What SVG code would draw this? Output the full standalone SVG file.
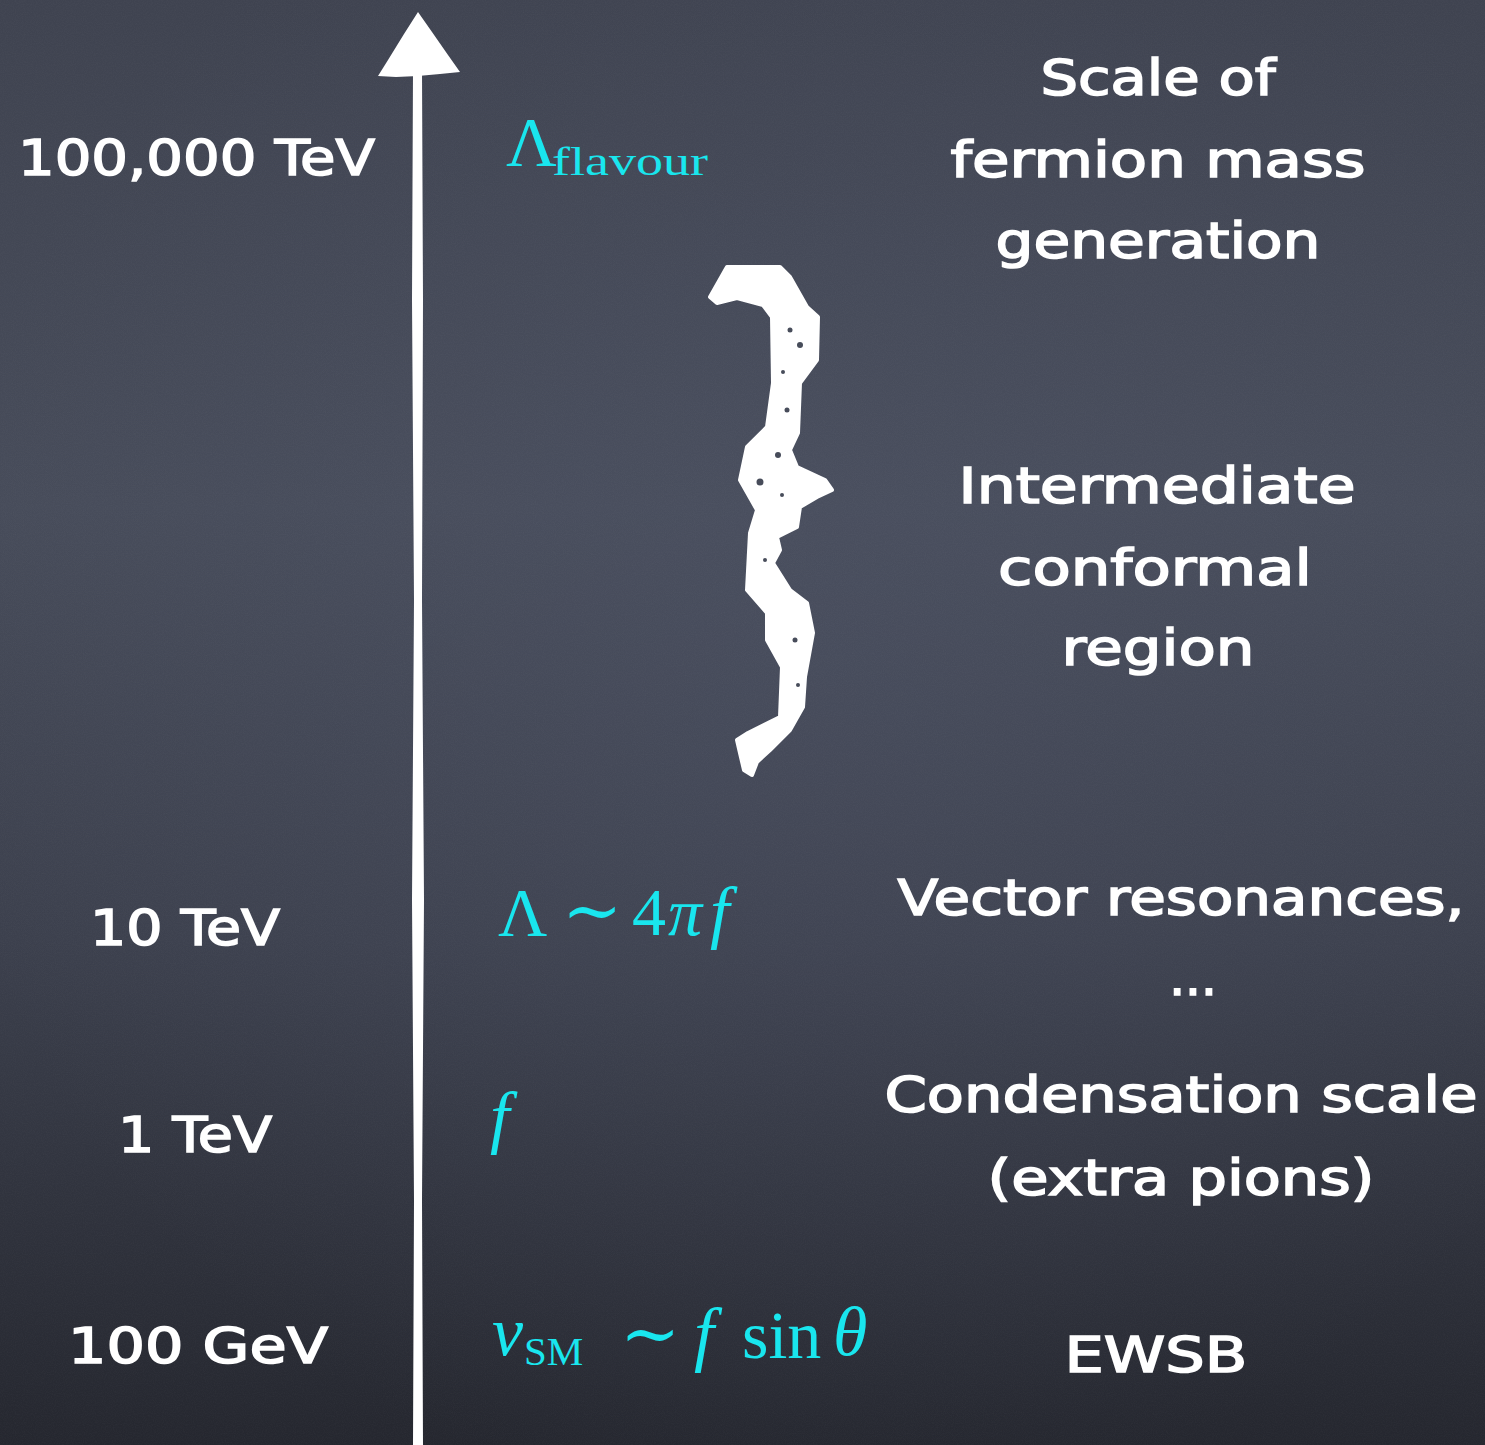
<svg xmlns="http://www.w3.org/2000/svg" width="1485" height="1445" viewBox="0 0 1485 1445">
  <defs>
    <linearGradient id="board" x1="0" y1="0" x2="0" y2="1">
      <stop offset="0" stop-color="#3f4350"/>
      <stop offset="0.35" stop-color="#474c5a"/>
      <stop offset="0.65" stop-color="#3c404d"/>
      <stop offset="1" stop-color="#25272f"/>
    </linearGradient>
    <radialGradient id="glow" cx="0.55" cy="0.45" r="0.6">
      <stop offset="0" stop-color="#50566a" stop-opacity="0.35"/>
      <stop offset="1" stop-color="#50566a" stop-opacity="0"/>
    </radialGradient>
    <filter id="grain" x="0" y="0" width="100%" height="100%">
      <feTurbulence type="fractalNoise" baseFrequency="0.9" numOctaves="2" seed="3"/>
      <feColorMatrix type="matrix" values="0 0 0 0 1  0 0 0 0 1  0 0 0 0 1  0 0 0 0.6 -0.2"/>
    </filter>
    <style>
      .chalk { font-family: "DejaVu Sans", "Liberation Sans", sans-serif; fill: #ffffff; stroke: #ffffff; stroke-width: 1.6px; }
      .lbl { font-size: 50px; }
      .rt { font-size: 50px; text-anchor: middle; }
      .math { font-family: "Liberation Serif", "DejaVu Serif", serif; fill: #19e6ee; }
      .it { font-style: italic; }
    </style>
  </defs>

  <rect x="0" y="0" width="1485" height="1445" fill="url(#board)"/>
  <rect x="0" y="0" width="1485" height="1445" fill="url(#glow)"/>
  <rect x="0" y="0" width="1485" height="1445" filter="url(#grain)" opacity="0.08"/>

  <g id="connectors">
    <path id="axis" d="M413,70 L412,300 L414,600 L412,900 L414,1200 L413,1445 L423,1445 L422,1200 L424,900 L422,600 L423,300 L422,70 Z" fill="#ffffff"/>
    <path id="axis-head" d="M418,12 L432,32 L448,55 L460,72 L440,74 L418,76 L396,77 L378,76 L388,60 L404,34 Z" fill="#ffffff"/>
  </g>

  <g id="brace">
    <path d="M710,297 L727,267 L780,267 L790,277 L807,307 L818,317 L817,360 L800,383 L798,433 L790,450 L797,467 L825,480 L832,490 L817,497 L800,507 L797,527 L777,537 L780,550 L773,563 L790,590 L807,603 L813,633 L805,677 L803,707 L790,730 L770,750 L757,762 L752,775 L744,770 L740,753 L737,740 L748,733 L780,717 L782,667 L767,640 L767,613 L747,590 L750,533 L757,510 L740,480 L747,447 L767,427 L773,383 L772,317 L763,305 L737,298 L717,303 Z" fill="#ffffff" stroke="#ffffff" stroke-width="4" stroke-linejoin="round"/>
    <g fill="#474c5a">
      <circle cx="790" cy="330" r="2.5"/>
      <circle cx="800" cy="345" r="3"/>
      <circle cx="783" cy="372" r="2"/>
      <circle cx="787" cy="410" r="2.5"/>
      <circle cx="778" cy="455" r="3"/>
      <circle cx="760" cy="482" r="3.5"/>
      <circle cx="782" cy="495" r="2"/>
      <circle cx="765" cy="560" r="2"/>
      <circle cx="795" cy="640" r="2.5"/>
      <circle cx="798" cy="685" r="2"/>
    </g>
  </g>

  <g id="scale-100000TeV">
    <text class="chalk lbl" x="18" y="175" textLength="357" lengthAdjust="spacingAndGlyphs">100,000 TeV</text>
  </g>
  <g id="scale-10TeV">
    <text class="chalk lbl" x="90" y="945" textLength="190" lengthAdjust="spacingAndGlyphs">10 TeV</text>
  </g>
  <g id="scale-1TeV">
    <text class="chalk lbl" x="118" y="1152" textLength="154" lengthAdjust="spacingAndGlyphs">1 TeV</text>
  </g>
  <g id="scale-100GeV">
    <text class="chalk lbl" x="68" y="1363" textLength="260" lengthAdjust="spacingAndGlyphs">100 GeV</text>
  </g>

  <g id="math-lambda-flavour">
    <text class="math" x="506" y="166" font-size="70">Λ</text>
    <text class="math" x="552" y="175" font-size="40" textLength="156" lengthAdjust="spacingAndGlyphs">flavour</text>
  </g>
  <g id="math-lambda-4pif">
    <text class="math" x="498" y="935" font-size="68">Λ</text>
    <text class="math" x="562" y="935" font-size="72">∼</text>
    <text class="math" x="632" y="935" font-size="68">4</text>
    <text class="math it" x="668" y="935" font-size="68">π</text>
    <text class="math it" x="710" y="935" font-size="70">f</text>
  </g>
  <g id="math-f">
    <text class="math it" x="490" y="1140" font-size="70">f</text>
  </g>
  <g id="math-vsm">
    <text class="math it" x="492" y="1355" font-size="70">v</text>
    <text class="math" x="524" y="1365" font-size="41">SM</text>
    <text class="math" x="620" y="1358" font-size="72">∼</text>
    <text class="math it" x="694" y="1358" font-size="72">f</text>
    <text class="math" x="742" y="1358" font-size="68">sin</text>
    <text class="math it" x="833" y="1355" font-size="70">θ</text>
  </g>

  <g id="desc-fermion">
    <text class="chalk rt" x="1158" y="95" textLength="235" lengthAdjust="spacingAndGlyphs">Scale of</text>
    <text class="chalk rt" x="1158" y="177" textLength="415" lengthAdjust="spacingAndGlyphs">fermion mass</text>
    <text class="chalk rt" x="1158" y="258" textLength="325" lengthAdjust="spacingAndGlyphs">generation</text>
  </g>
  <g id="desc-conformal">
    <text class="chalk rt" x="1157" y="503" textLength="397" lengthAdjust="spacingAndGlyphs">Intermediate</text>
    <text class="chalk rt" x="1155" y="585" textLength="314" lengthAdjust="spacingAndGlyphs">conformal</text>
    <text class="chalk rt" x="1158" y="665" textLength="193" lengthAdjust="spacingAndGlyphs">region</text>
  </g>
  <g id="desc-vector">
    <text class="chalk rt" x="1181" y="915" textLength="567" lengthAdjust="spacingAndGlyphs">Vector resonances,</text>
    <text class="chalk rt" x="1193" y="995">...</text>
  </g>
  <g id="desc-condensation">
    <text class="chalk rt" x="1181" y="1112" textLength="593" lengthAdjust="spacingAndGlyphs">Condensation scale</text>
    <text class="chalk rt" x="1181" y="1195" textLength="387" lengthAdjust="spacingAndGlyphs">(extra pions)</text>
  </g>
  <g id="desc-ewsb">
    <text class="chalk rt" x="1156" y="1372" textLength="183" lengthAdjust="spacingAndGlyphs">EWSB</text>
  </g>
</svg>
